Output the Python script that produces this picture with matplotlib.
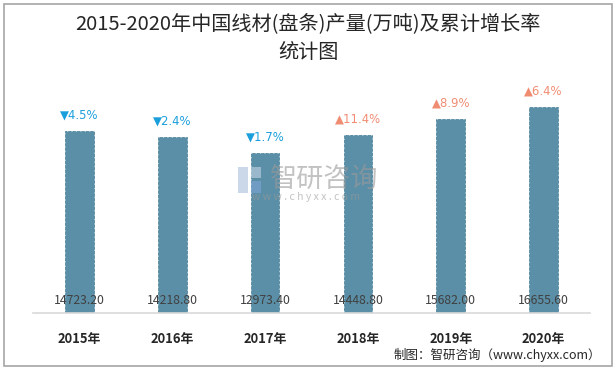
import matplotlib
matplotlib.use('Agg')
import matplotlib.pyplot as plt
from matplotlib.patches import Rectangle

plt.rcParams['font.family'] = ['Noto Sans CJK SC', 'DejaVu Sans']

# data
years = ['2015年', '2016年', '2017年', '2018年', '2019年', '2020年']
output = [14723.20, 14218.80, 12973.40, 14448.80, 15682.00, 16655.60]
growth = [-4.5, -2.4, -1.7, 11.4, 8.9, 6.4]

W, H = 616, 370
fig = plt.figure(figsize=(W / 100, H / 100), dpi=100)

# outer border
fig.patches.append(Rectangle((4 / W, 4 / H), 608 / W, 362 / H, transform=fig.transFigure,
                             fill=False, edgecolor='#a6a6a6', linewidth=1.2))

ax = fig.add_axes([33 / W, (H - 313) / H, 557 / W, 247 / H])
x = list(range(len(years)))
ax.bar(x, output, width=0.31, color='#5b8fa7', edgecolor='#52869d', linewidth=0.6, linestyle='--')
ax.set_xlim(-0.5, len(years) - 0.5)
ax.set_ylim(0, 20000)
ax.set_yticks([])
for s in ['top', 'right', 'left']:
    ax.spines[s].set_visible(False)
ax.spines['bottom'].set_color('#d9d9d9')
ax.spines['bottom'].set_linewidth(1.2)
ax.set_xticks(x)
ax.set_xticklabels(years, fontsize=9.3, fontweight='bold', color='#262626')
ax.tick_params(axis='x', length=0, pad=14)

for i, v in enumerate(output):
    ax.annotate(f'{v:.2f}', xy=(i, 0), xytext=(0, 13), textcoords='offset pixels',
                ha='center', va='center', fontsize=8.8, color='#404040')

for i, g in enumerate(growth):
    if g < 0:
        txt, col = f'▼{abs(g)}%', '#1a9fdc'
    else:
        txt, col = f'▲{g}%', '#f08c72'
    ax.annotate(txt, xy=(i, output[i]), xytext=(0, 16), textcoords='offset pixels',
                ha='center', va='center', fontsize=8.4, color=col,
                family=['DejaVu Sans'])

# title
fig.text(0.5, 1 - 24 / H, '2015-2020年中国线材(盘条)产量(万吨)及累计增长率',
         ha='center', va='center', fontsize=14.5, color='#262626')
fig.text(0.5, 1 - 52 / H, '统计图', ha='center', va='center', fontsize=14.5, color='#262626')

# watermark
fig.patches.append(Rectangle((238 / W, 1 - 193 / H), 10 / W, 26 / H, transform=fig.transFigure,
                             facecolor='#a9bfdc', alpha=0.6, edgecolor='none'))
fig.patches.append(Rectangle((251 / W, 1 - 193 / H), 10 / W, 12 / H, transform=fig.transFigure,
                             facecolor='#7fa6d6', alpha=0.6, edgecolor='none'))
fig.patches.append(Rectangle((251 / W, 1 - 178 / H), 10 / W, 11 / H, transform=fig.transFigure,
                             facecolor='#c5d3e6', alpha=0.6, edgecolor='none'))
fig.text(324 / W, 1 - 179 / H, '智研咨询', ha='center', va='center', fontsize=19.5,
         color='#9a9a9a', alpha=0.6)
fig.text(306 / W, 1 - 197 / H, 'w w w . c h y x x . c o m', ha='center', va='center',
         fontsize=7.5, color='#9a9a9a', alpha=0.6)

# source
fig.text(601 / W, 1 - 355 / H, '制图：智研咨询（www.chyxx.com）', ha='right', va='center',
         fontsize=9, color='#262626')

plt.savefig('out.png', dpi=100)
